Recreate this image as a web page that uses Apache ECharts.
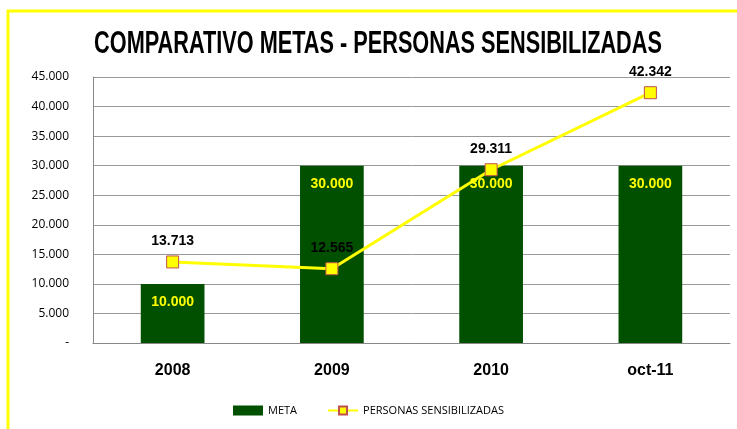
<!DOCTYPE html>
<html>
<head>
<meta charset="utf-8">
<script src="https://cdn.jsdelivr.net/npm/echarts@6/dist/echarts.min.js"></script>
<style>
  html, body { margin: 0; padding: 0; background: #fff; }
  #chart { width: 737px; height: 429px; }
</style>
</head>
<body>
<div id="chart"></div>
<script>
// datos
var categories = ['2008', '2009', '2010', 'oct-11'];
var meta = [10000, 30000, 30000, 30000];
var personas = [13713, 12565, 29311, 42342];

function fmt(v) {
  if (v === 0) return '-';
  return String(v).replace(/\B(?=(\d{3})+(?!\d))/g, '.');
}

var chart = echarts.init(document.getElementById('chart'));

var option = {
  animation: false,
  graphic: [
    {
      type: 'rect',
      shape: { x: 8, y: 11, width: 800, height: 500 },
      style: { fill: 'none', stroke: '#ffff00', lineWidth: 3 },
      silent: true
    },
    {
      // titulo condensado (tipo Calibri)
      type: 'text',
      x: 378,
      y: 44,
      scaleX: 0.7,
      style: {
        text: 'COMPARATIVO METAS - PERSONAS SENSIBILIZADAS',
        fontFamily: 'Liberation Sans',
        fontSize: 31,
        fontWeight: 'bold',
        fill: '#000',
        align: 'center',
        verticalAlign: 'middle'
      },
      silent: true
    }
  ],
  legend: {
    bottom: 8,
    left: 'center',
    itemGap: 30,
    itemWidth: 30,
    itemHeight: 10,
    textStyle: { fontFamily: 'Open Sans', fontSize: 11, color: '#000' },
    data: [
      { name: 'META', icon: 'rect' },
      { name: 'PERSONAS SENSIBILIZADAS' }
    ]
  },
  grid: { left: 93, right: 7, top: 77, bottom: 86 },
  xAxis: {
    type: 'category',
    data: categories,
    axisLine: { lineStyle: { color: '#888' } },
    axisTick: { show: false },
    axisLabel: {
      margin: 20,
      fontFamily: 'Liberation Sans',
      fontSize: 16,
      fontWeight: 'bold',
      color: '#000'
    }
  },
  yAxis: {
    type: 'value',
    min: 0,
    max: 45000,
    interval: 5000,
    axisLine: { show: true, lineStyle: { color: '#888' } },
    axisTick: { show: false },
    splitLine: { lineStyle: { color: '#999', width: 1 } },
    axisLabel: {
      margin: 24,
      fontFamily: 'Open Sans',
      fontSize: 12,
      color: '#000',
      formatter: fmt
    }
  },
  series: [
    {
      name: 'META',
      type: 'bar',
      data: meta,
      barWidth: '40%',
      itemStyle: { color: '#005000' },
      label: {
        show: true,
        position: 'insideTop',
        distance: 11,
        formatter: function (p) { return fmt(p.value); },
        fontFamily: 'Liberation Sans',
        fontSize: 14,
        fontWeight: 'bold',
        color: '#ffff00'
      },
      z: 2
    },
    {
      name: 'PERSONAS SENSIBILIZADAS',
      type: 'line',
      data: personas,
      symbol: 'rect',
      symbolSize: 12,
      lineStyle: { color: '#ffff00', width: 3 },
      itemStyle: { color: '#ffff00', borderColor: '#c0504d', borderWidth: 1 },
      label: {
        show: true,
        position: 'top',
        distance: 7,
        formatter: function (p) { return fmt(p.value); },
        fontFamily: 'Liberation Sans',
        fontSize: 14,
        fontWeight: 'bold',
        color: '#000'
      },
      z: 3
    }
  ]
};

chart.setOption(option);
</script>
</body>
</html>
